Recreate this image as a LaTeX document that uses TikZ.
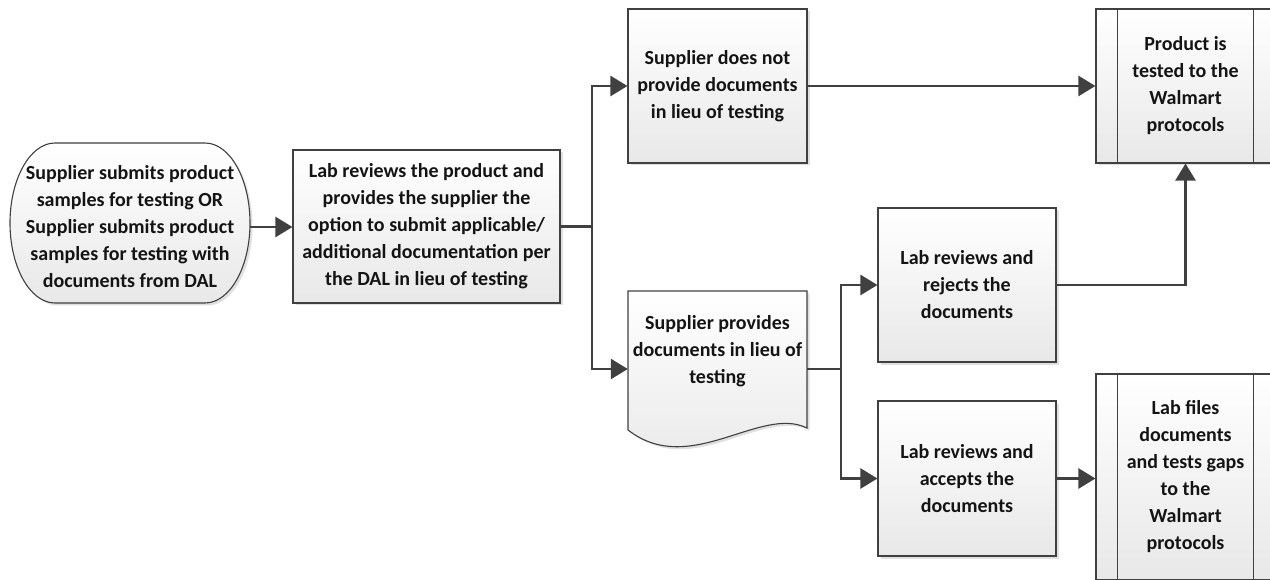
\documentclass[tikz,border=0pt]{standalone}
\usepackage{fontspec}
\setmainfont{Carlito}
\usetikzlibrary{arrows.meta,shadows}
\definecolor{linec}{HTML}{404040}
\definecolor{txtc}{HTML}{141414}
\begin{document}
\begin{tikzpicture}[x=1pt,y=-1pt,
  fillshade/.style={top color=white,bottom color=black!9},
  shad/.style={drop shadow={shadow xshift=2.5pt,shadow yshift=-2.5pt,fill=black!30,opacity=0.4}},
  txt/.style={align=center,font=\bfseries\fontsize{20}{27}\selectfont,text=txtc,inner sep=0pt},
  boxnode/.style={txt,draw=linec,line width=1.1pt,fillshade,shad},
  conn/.style={draw=linec,line width=2.6pt,-{Triangle[length=17pt,width=20pt]}},
  outline/.style={draw=linec,line width=1.1pt}
]
\useasboundingbox (0,0) rectangle (1270,580);

% start terminal shape
\path[outline,fillshade,shad] (55,143) -- (205,143)
  arc[start angle=-90,end angle=90,x radius=45,y radius=80] -- (55,303)
  arc[start angle=90,end angle=270,x radius=45,y radius=80] -- cycle;
\node[txt,minimum width=240,minimum height=160] (start) at (130,227)
  {Supplier submits product\\samples for testing OR\\Supplier submits product\\samples for testing with\\documents from DAL};

\node[boxnode,minimum width=267,minimum height=153] (box2) at (426.5,226.5)
  {Lab reviews the product and\\provides the supplier the\\option to submit applicable/\\additional documentation per\\the DAL in lieu of testing};

\node[boxnode,minimum width=179,minimum height=154] (box3) at (717.5,86)
  {Supplier does not\\provide documents\\in lieu of testing};

% document shape
\node[minimum width=179,minimum height=156,inner sep=0pt] (doc) at (717.5,369) {};
\path[outline,fillshade,shad] (628,291) -- (807,291) -- (807,428)
  .. controls (760,405) and (690,478) .. (628,430) -- cycle;
\node[txt] (doctext) at (717.5,351) {Supplier provides\\documents in lieu of\\testing};

\node[boxnode,minimum width=178,minimum height=154] (rej) at (967,285)
  {Lab reviews and\\rejects the\\documents};
\node[boxnode,minimum width=178,minimum height=155] (acc) at (967,478.5)
  {Lab reviews and\\accepts the\\documents};

\node[boxnode,minimum width=179,minimum height=154] (prod) at (1185.5,86)
  {Product is\\tested to the\\Walmart\\protocols};
\draw[outline] ([xshift=22pt]prod.north west) -- ([xshift=22pt]prod.south west);
\draw[outline] ([xshift=-22pt]prod.north east) -- ([xshift=-22pt]prod.south east);

\node[boxnode,minimum width=179,minimum height=206] (files) at (1185.5,477)
  {Lab files\\documents\\and tests gaps\\to the\\Walmart\\protocols};
\draw[outline] ([xshift=22pt]files.north west) -- ([xshift=22pt]files.south west);
\draw[outline] ([xshift=-22pt]files.north east) -- ([xshift=-22pt]files.south east);

% connectors
\coordinate (j1) at (592,226.5);
\coordinate (j2) at (841,369);
\draw[conn] (start.east) -- (start.east -| box2.west);
\draw[conn] (box2.east) -- (j1) |- (box3.west);
\draw[conn] (box2.east) -- (j1) |- (doc.west);
\draw[conn] (box3.east) -- (prod.west);
\draw[conn] (doc.east) -- (j2) |- (rej.west);
\draw[conn] (doc.east) -- (j2) |- (acc.west);
\draw[conn] (rej.east) -| (prod.south);
\draw[conn] (acc.east) -- (acc.east -| files.west);
\end{tikzpicture}
\end{document}
